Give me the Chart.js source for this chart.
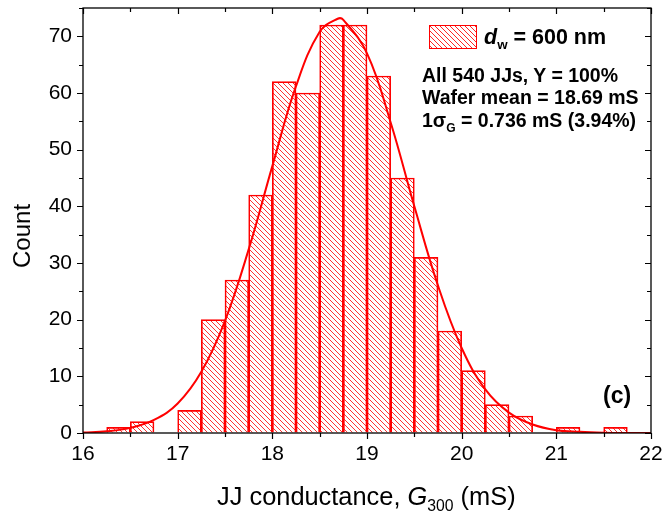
<!DOCTYPE html>
<html>
<head>
<meta charset="utf-8">
<script src="https://cdn.jsdelivr.net/npm/chart.js@4.4.1/dist/chart.umd.min.js"></script>
<style>
    body { margin: 0; background: #fff; }
    #wrap { position: relative; width: 665px; height: 513px; font-family: "Liberation Sans", Arial, sans-serif; color: #000; }
    #chart { position: absolute; left: 0; top: 0; }
    .txt { position: absolute; white-space: nowrap; }
    .txt sub { font-size: 0.62em; vertical-align: -0.4em; line-height: 0; }
    .bold { font-weight: bold; }
</style>
</head>
<body>
<div id="wrap">
    <canvas id="chart" width="665" height="513"></canvas>
    <div class="txt" id="ytitle" style="font-size:24px; line-height:24px; left:22px; top:236px; transform: translate(-50%, -50%) rotate(-90deg);">Count</div>
    <div class="txt" style="font-size:25.4px; line-height:26px; left:217px; top:483px;">JJ conductance, <i>G</i><sub>300</sub> (mS)</div>
    <canvas id="legendBox" class="txt" width="48" height="24" style="left:429px; top:25px;"></canvas>
    <div class="txt bold" style="font-size:21.5px; line-height:21px; left:484px; top:27px;"><i>d</i><sub>w</sub> = 600 nm</div>
    <div class="txt bold" style="font-size:19.5px; line-height:19px; left:422px; top:66px;">All 540 JJs, Y = 100%</div>
    <div class="txt bold" style="font-size:19.5px; line-height:19px; left:422px; top:88px;">Wafer mean = 18.69 mS</div>
    <div class="txt bold" style="font-size:19.5px; line-height:19px; left:422px; top:111px;">1σ<sub>G</sub> = 0.736 mS (3.94%)</div>
    <div class="txt bold" style="font-size:23px; line-height:23px; left:603px; top:384px;">(c)</div>
</div>
<script>
// histogram bins (centre of each 0.25 mS bin) and counts
const binCenters = [16.375, 16.625, 17.125, 17.375, 17.625, 17.875, 18.125, 18.375, 18.625, 18.875,
    19.125, 19.375, 19.625, 19.875, 20.125, 20.375, 20.625, 21.125, 21.625];
const binCounts = [1, 2, 4, 20, 27, 42, 62, 60, 72, 72, 63, 45, 31, 18, 11, 5, 3, 1, 1];

// fitted curve
const fitX = [16, 16.25, 16.5, 16.75, 17, 17.25, 17.5, 17.75, 18, 18.25, 18.5, 18.69, 18.75, 19,
    19.25, 19.5, 19.75, 20, 20.25, 20.5, 20.75, 21, 21.25, 21.5, 21.75, 22];
const fitY = [0.1, 0.3, 0.9, 2.3, 5.2, 10.8, 19.8, 32.4, 47.1, 61.2, 70.8, 73.1, 72.9, 67,
    54.8, 40, 26, 15, 7.7, 3.6, 1.5, 0.5, 0.2, 0.05, 0, 0];

const xMin = 16, xMax = 22, yMin = 0, yMax = 75;
const RED = '#ff0000';
const FONT = '"Liberation Sans", Arial, sans-serif';

function makeHatch(ctx, size, color) {
    const c = document.createElement('canvas');
    c.width = size;
    c.height = size;
    const g = c.getContext('2d');
    g.strokeStyle = color;
    g.lineWidth = 1;
    g.beginPath();
    g.moveTo(0, 0); g.lineTo(size, size);
    g.moveTo(-1, size - 1); g.lineTo(1, size + 1);
    g.moveTo(size - 1, -1); g.lineTo(size + 1, 1);
    g.stroke();
    return ctx.createPattern(c, 'repeat');
}

// frame and tick marks (out on left/bottom, in on top/right)
const framePlugin = {
    id: 'frame',
    afterDraw(chart) {
        const { ctx, chartArea: a, scales } = chart;
        ctx.save();
        ctx.strokeStyle = '#000';
        ctx.lineWidth = 1.3;
        ctx.strokeRect(a.left, a.top, a.right - a.left, a.bottom - a.top);
        ctx.lineWidth = 1.2;
        ctx.beginPath();
        scales.x.ticks.forEach(t => {
            const px = Math.round(scales.x.getPixelForValue(t.value)) + 0.5;
            const len = Number.isInteger(t.value) ? 6 : 4;
            ctx.moveTo(px, a.bottom); ctx.lineTo(px, a.bottom + len);
            ctx.moveTo(px, a.top); ctx.lineTo(px, a.top + len);
        });
        scales.y.ticks.forEach(t => {
            const py = Math.round(scales.y.getPixelForValue(t.value)) + 0.5;
            const len = t.value % 10 === 0 ? 6 : 4;
            ctx.moveTo(a.left - len, py); ctx.lineTo(a.left, py);
            ctx.moveTo(a.right - len, py); ctx.lineTo(a.right, py);
        });
        ctx.stroke();
        ctx.restore();
    }
};

const canvas = document.getElementById('chart');
const ctx = canvas.getContext('2d');

const lb = document.getElementById('legendBox').getContext('2d');
lb.fillStyle = '#fff';
lb.fillRect(0, 0, 48, 24);
lb.fillStyle = makeHatch(lb, 5, 'rgba(255, 0, 0, 0.85)');
lb.fillRect(0, 0, 48, 24);
lb.strokeStyle = RED;
lb.lineWidth = 1;
lb.strokeRect(0.5, 0.5, 47, 23);

new Chart(ctx, {
    type: 'bar',
    data: {
        datasets: [
            {
                type: 'line',
                data: fitX.map((x, i) => ({ x: x, y: fitY[i] })),
                borderColor: RED,
                borderWidth: 2,
                pointRadius: 0,
                tension: 0.4,
                fill: false,
                order: 0
            },
            {
                type: 'bar',
                data: binCenters.map((x, i) => ({ x: x, y: binCounts[i] })),
                backgroundColor: makeHatch(ctx, 5, 'rgba(255, 0, 0, 0.8)'),
                borderColor: RED,
                borderWidth: 1,
                barPercentage: 1,
                categoryPercentage: 1,
                order: 1
            }
        ]
    },
    options: {
        responsive: false,
        animation: false,
        events: [],
        layout: { padding: { left: 0, right: 14, top: 8, bottom: 0 } },
        plugins: { legend: { display: false }, tooltip: { enabled: false } },
        scales: {
            x: {
                type: 'linear',
                min: xMin,
                max: xMax,
                offset: false,
                grid: { display: true, drawOnChartArea: false, drawTicks: false },
                border: { display: false },
                ticks: {
                    stepSize: 0.5,
                    autoSkip: false,
                    maxRotation: 0,
                    padding: 9,
                    color: '#000',
                    font: { family: FONT, size: 21 },
                    callback: v => Number.isInteger(v) ? String(v) : ''
                },
                afterFit: s => {
                    s.height = 80;
                    s.paddingLeft = 0;
                    s.paddingRight = 0;
                }
            },
            y: {
                min: yMin,
                max: yMax,
                grid: { display: true, drawOnChartArea: false, drawTicks: false },
                border: { display: false },
                ticks: {
                    stepSize: 5,
                    autoSkip: false,
                    padding: 11,
                    color: '#000',
                    font: { family: FONT, size: 21 },
                    callback: v => v % 10 === 0 ? String(v) : ''
                },
                afterFit: s => {
                    s.width = 83;
                    s.paddingTop = 0;
                    s.paddingBottom = 0;
                }
            }
        }
    },
    plugins: [framePlugin]
});
</script>
</body>
</html>
